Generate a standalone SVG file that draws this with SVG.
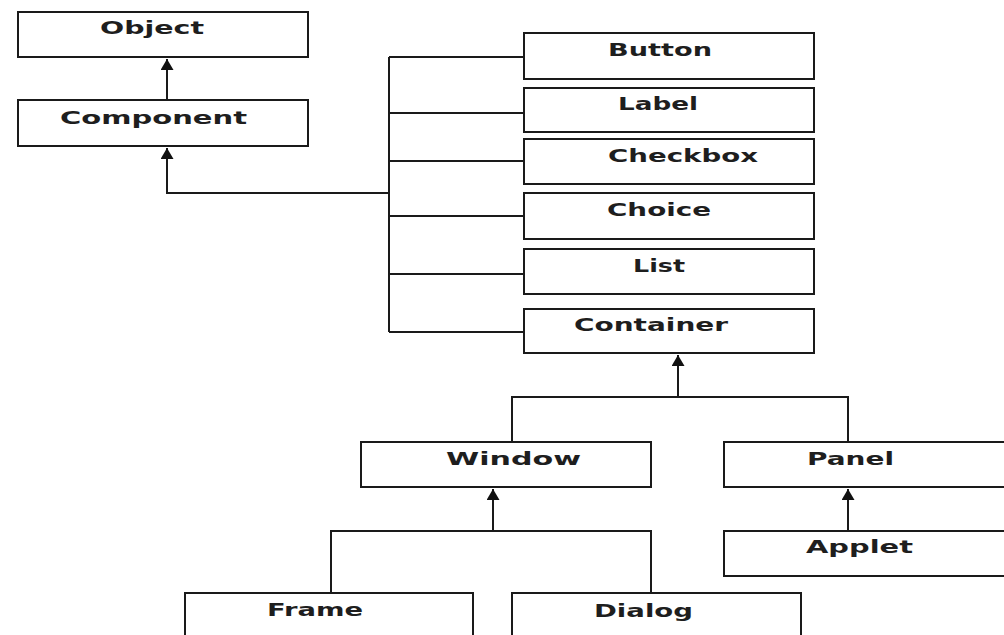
<svg xmlns="http://www.w3.org/2000/svg" width="1004" height="635" viewBox="0 0 1004 635">
<style>
.box{fill:#fff;stroke:#1a1a1a;stroke-width:2}
.lbl{font-family:"DejaVu Sans",Verdana,sans-serif;font-weight:bold;font-size:18.5px;fill:#1e1e1e}
.con{fill:none;stroke:#1a1a1a;stroke-width:2}
</style>
<defs>
<marker id="ah" markerUnits="userSpaceOnUse" markerWidth="14" markerHeight="14" refX="11" refY="6.5" orient="auto">
<path d="M0,0 L11,6.5 L0,13 Z" fill="#111"/>
</marker>
</defs>
<rect width="1004" height="635" fill="#fff"/>
<g id="connectors">
<path class="con" d="M167,100 V59" marker-end="url(#ah)"/>
<path class="con" d="M389,57 V332 M389,57 H524 M389,113 H524 M389,161 H524 M389,216 H524 M389,274 H524 M389,332 H524"/>
<path class="con" d="M389,193 H167 V148" marker-end="url(#ah)"/>
<path class="con" d="M678,397 V355" marker-end="url(#ah)"/>
<path class="con" d="M512,442 V397 H848 V442"/>
<path class="con" d="M493,531 V489" marker-end="url(#ah)"/>
<path class="con" d="M331,593 V531 H651 V593"/>
<path class="con" d="M848,531 V489" marker-end="url(#ah)"/>
</g>
<g id="object"><rect class="box" x="18" y="12" width="290" height="45"/><text class="lbl" x="100" y="34" textLength="104" lengthAdjust="spacingAndGlyphs">Object</text></g>
<g id="component"><rect class="box" x="18" y="100" width="290" height="46"/><text class="lbl" x="60" y="124" textLength="187" lengthAdjust="spacingAndGlyphs">Component</text></g>
<g id="button"><rect class="box" x="524" y="33" width="290" height="46"/><text class="lbl" x="608" y="56" textLength="104" lengthAdjust="spacingAndGlyphs">Button</text></g>
<g id="label"><rect class="box" x="524" y="88" width="290" height="44"/><text class="lbl" x="618" y="110" textLength="80" lengthAdjust="spacingAndGlyphs">Label</text></g>
<g id="checkbox"><rect class="box" x="524" y="139" width="290" height="45"/><text class="lbl" x="608" y="162" textLength="150" lengthAdjust="spacingAndGlyphs">Checkbox</text></g>
<g id="choice"><rect class="box" x="524" y="193" width="290" height="46"/><text class="lbl" x="607" y="216" textLength="104" lengthAdjust="spacingAndGlyphs">Choice</text></g>
<g id="list"><rect class="box" x="524" y="249" width="290" height="45"/><text class="lbl" x="633" y="272" textLength="52" lengthAdjust="spacingAndGlyphs">List</text></g>
<g id="container"><rect class="box" x="524" y="309" width="290" height="44"/><text class="lbl" x="574" y="331" textLength="154" lengthAdjust="spacingAndGlyphs">Container</text></g>
<g id="window"><rect class="box" x="361" y="442" width="290" height="45"/><text class="lbl" x="446" y="465" textLength="135" lengthAdjust="spacingAndGlyphs">Window</text></g>
<g id="panel"><rect class="box" x="724" y="442" width="290" height="45"/><text class="lbl" x="807" y="465" textLength="87" lengthAdjust="spacingAndGlyphs">Panel</text></g>
<g id="applet"><rect class="box" x="724" y="531" width="290" height="45"/><text class="lbl" x="806" y="553" textLength="107" lengthAdjust="spacingAndGlyphs">Applet</text></g>
<g id="frame"><rect class="box" x="185" y="593" width="288" height="60"/><text class="lbl" x="267" y="616" textLength="96" lengthAdjust="spacingAndGlyphs">Frame</text></g>
<g id="dialog"><rect class="box" x="512" y="593" width="289" height="60"/><text class="lbl" x="594" y="617" textLength="99" lengthAdjust="spacingAndGlyphs">Dialog</text></g>
</svg>
